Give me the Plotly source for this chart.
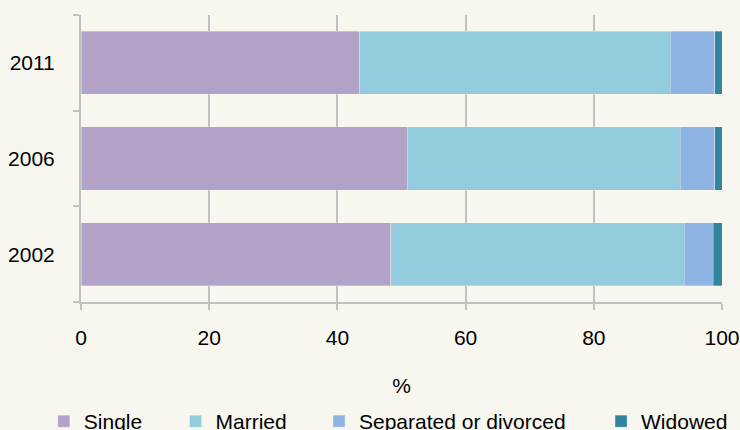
import plotly.graph_objects as go

# Marital status by census year (percent)
years = ["2002", "2006", "2011"]
single = [48.3, 50.9, 43.5]
married = [45.8, 42.6, 48.4]
separated = [4.5, 5.4, 7.0]
widowed = [1.4, 1.1, 1.1]

series = [
    ("Single", single, "#B3A2C7", "legend", -0.058),
    ("Married", married, "#93CDDD", "legend2", 0.1475),
    ("Separated or divorced", separated, "#8EB4E3", "legend3", 0.3713),
    ("Widowed", widowed, "#31859C", "legend4", 0.8113),
]

fig = go.Figure()
for name, vals, color, leg, _ in series:
    fig.add_trace(go.Bar(
        y=years, x=vals, name=name, orientation="h",
        marker=dict(color=color, line=dict(color="rgba(255,255,255,0.6)", width=0.5)),
        legend=leg,
    ))

font = dict(family="Liberation Sans, Arial, sans-serif", size=21, color="#000000")
grey = "#C0C0C0"

# one legend per series so each entry sits where it does in the original
layout_legends = {}
for name, vals, color, leg, xpos in series:
    layout_legends[leg] = dict(
        x=xpos, y=-0.4164, xanchor="left", yanchor="middle",
        orientation="h", bgcolor="rgba(0,0,0,0)", font=font,
    )

fig.update_layout(
    barmode="stack",
    bargap=0.34,
    width=740, height=430,
    margin=dict(l=81, r=18, t=15, b=128, autoexpand=False),
    paper_bgcolor="#F7F7F0",
    plot_bgcolor="#F7F7F0",
    font=font,
    showlegend=True,
    **layout_legends,
)

fig.update_xaxes(
    range=[0, 100], dtick=20,
    showgrid=True, gridcolor=grey, gridwidth=2,
    showline=True, linecolor=grey, linewidth=2,
    ticks="outside", ticklen=6, tickcolor=grey, tickwidth=2,
    ticklabelstandoff=10,
    zeroline=False, automargin=False,
    title=dict(text="%", standoff=30, font=font),
)
fig.update_yaxes(
    type="category", categoryorder="array", categoryarray=years,
    tickson="boundaries",
    showgrid=False, automargin=False,
    showline=True, linecolor=grey, linewidth=2,
    ticks="outside", ticklen=6, tickcolor=grey, tickwidth=2,
    ticklabelstandoff=20,
)

fig.write_html("out.html", config={"displayModeBar": False},
               post_script="document.body.style.margin='0px';")
